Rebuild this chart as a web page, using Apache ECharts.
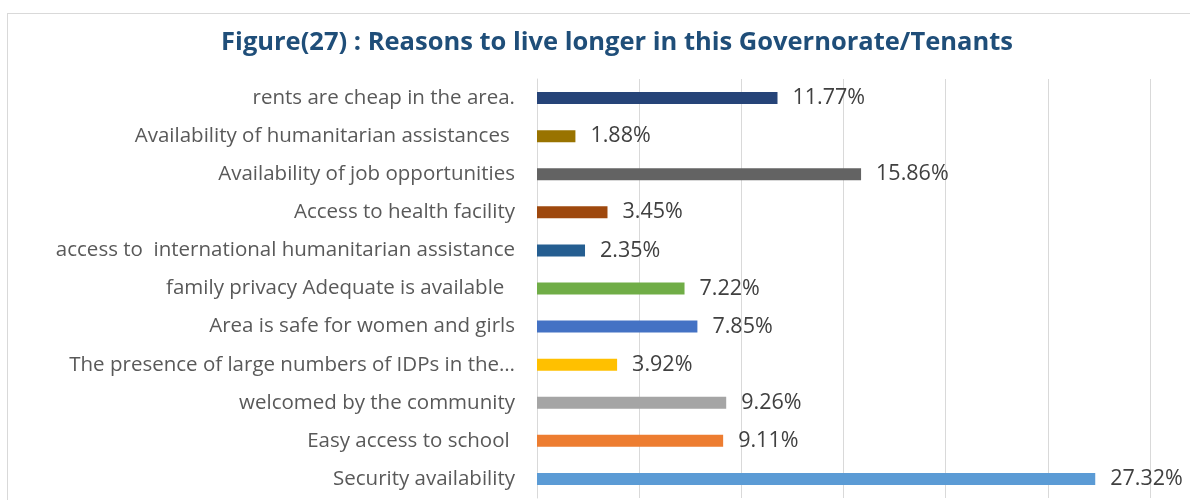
<!DOCTYPE html>
<html>
<head>
<meta charset="utf-8">
<script src="https://cdn.jsdelivr.net/npm/echarts@6/dist/echarts.min.js"></script>
<style>
  html, body { margin: 0; padding: 0; background: #fff; }
  #frame { position: absolute; left: 7px; top: 13px; width: 1200px; height: 520px; border: 1px solid #d9d9d9; box-sizing: border-box; }
  #chart { position: absolute; left: 0; top: 0; width: 1190px; height: 500px; }
</style>
</head>
<body>
<div id="frame"></div>
<div id="chart"></div>
<script>
// Reasons, listed top to bottom
const categories = [
  'rents are cheap in the area.',
  'Availability of humanitarian assistances ',
  'Availability of job opportunities',
  'Access to health facility',
  'access to  international humanitarian assistance',
  'family privacy Adequate is available  ',
  'Area is safe for women and girls',
  'The presence of large numbers of IDPs in the\u2026',
  'welcomed by the community',
  'Easy access to school ',
  'Security availability'
];
// Share of respondents (%)
const values = [11.77, 1.88, 15.86, 3.45, 2.35, 7.22, 7.85, 3.92, 9.26, 9.11, 27.32];
const barColors = ['#264478', '#997300', '#636363', '#9E480E', '#255E91', '#70AD47',
                   '#4472C4', '#FFC000', '#A5A5A5', '#ED7D31', '#5B9BD5'];

const chart = echarts.init(document.getElementById('chart'), null, { renderer: 'canvas' });
chart.setOption({
  animation: false,
  title: {
    text: 'Figure(27) : Reasons to live longer in this Governorate/Tenants',
    left: 612, top: 25, textAlign: 'center',
    textStyle: { fontFamily: 'Open Sans', fontWeight: 'bold', fontSize: 25.5, color: '#1F4E79' }
  },
  grid: { left: 537, right: 40, top: 79, bottom: 2, containLabel: false },
  xAxis: {
    type: 'value', min: 0, max: 30, interval: 5,
    axisLabel: { show: false }, axisLine: { show: false }, axisTick: { show: false },
    splitLine: { lineStyle: { color: '#d9d9d9', width: 1 } }
  },
  yAxis: {
    type: 'category', data: categories, inverse: true,
    axisTick: { show: false },
    axisLine: { lineStyle: { color: '#d9d9d9', width: 1 } },
    axisLabel: { fontFamily: 'Open Sans', fontSize: 20.5, color: '#595959', margin: 22 }
  },
  series: [{
    type: 'bar', barWidth: 12,
    data: values.map((v, i) => ({ value: v, itemStyle: { color: barColors[i] } })),
    label: {
      show: true, position: 'right', distance: 15,
      formatter: p => p.value.toFixed(2) + '%',
      fontFamily: 'Open Sans', fontSize: 21.5, color: '#404040'
    }
  }]
});
</script>
</body>
</html>
